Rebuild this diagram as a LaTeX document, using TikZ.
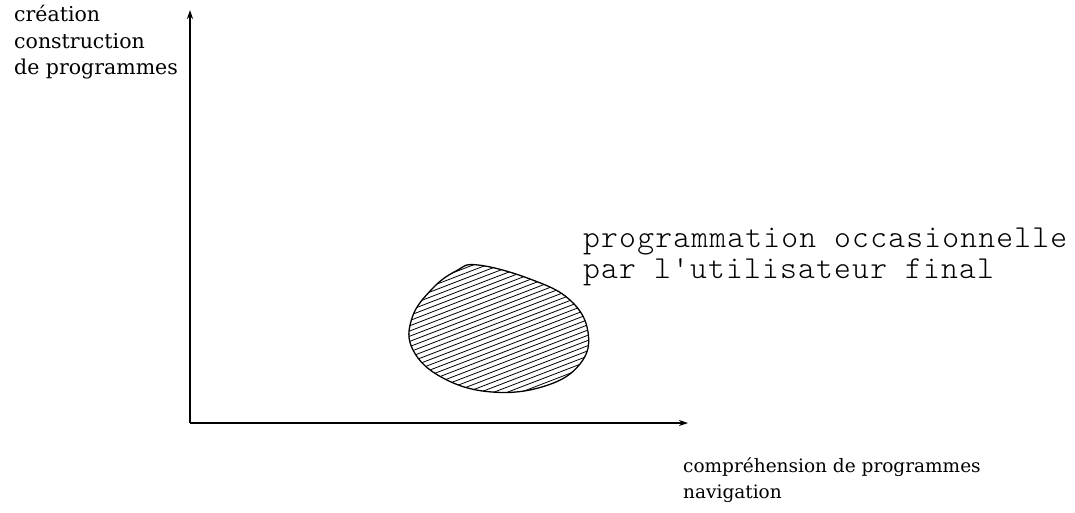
\documentclass[tikz,border=0pt]{standalone}
\usepackage{fontspec}
\setmainfont{DejaVu Serif}
\newfontfamily\lightmono[LetterSpace=3.8]{lmmonolt10-regular.otf}
\usetikzlibrary{arrows.meta,positioning}
\tikzset{
  axis/.style={line width=1.4pt, -{Stealth[length=9pt,width=6pt]}},
  axislabel/.style={font=\fontsize{20.5}{26.5}\selectfont, align=left, inner sep=0pt},
  xaxislabel/.style={font=\fontsize{18.5}{26}\selectfont, align=left, inner sep=0pt},
  zonelabel/.style={font=\lightmono\fontsize{32}{30.5}\selectfont, align=left, inner sep=0pt},
  hatch/.style={line width=0.8pt}
}
\begin{document}
\begin{tikzpicture}[x=1pt,y=-1pt]
  \useasboundingbox (0,0) rectangle (1075,512);
  % axes
  \coordinate (origin) at (190,423);
  \coordinate (ytip) at (190,10);
  \coordinate (xtip) at (688,423);
  \draw[axis] (origin) -- (ytip);
  \draw[axis] (origin) -- (xtip);
  % axis labels
  \node[axislabel, anchor=north west] (ylab) at (14,5)
    {création\\construction\\de programmes};
  \node[xaxislabel, anchor=north west] (xlab) at (683,457)
    {compréhension de programmes\\navigation};
  % hatched zone
  \begin{scope}
    \clip plot[smooth cycle, tension=0.7] coordinates {(478,265) (530,279) (570,300) (588,332)
      (580,364) (545,386) (492,392) (443,378) (413,350) (412,318) (432,289) (456,271)};
    \foreach \k in {0,...,45}
      \draw[hatch] (380,280+\k*5.2) -- ++(260,-100);
  \end{scope}
  \draw[line width=1.3pt] plot[smooth cycle, tension=0.7] coordinates {(478,265) (530,279) (570,300) (588,332)
      (580,364) (545,386) (492,392) (443,378) (413,350) (412,318) (432,289) (456,271)};
  \node[zonelabel, anchor=north west] (zone) at (583,228)
    {programmation occasionnelle\\par l'utilisateur final};
\end{tikzpicture}
\end{document}
